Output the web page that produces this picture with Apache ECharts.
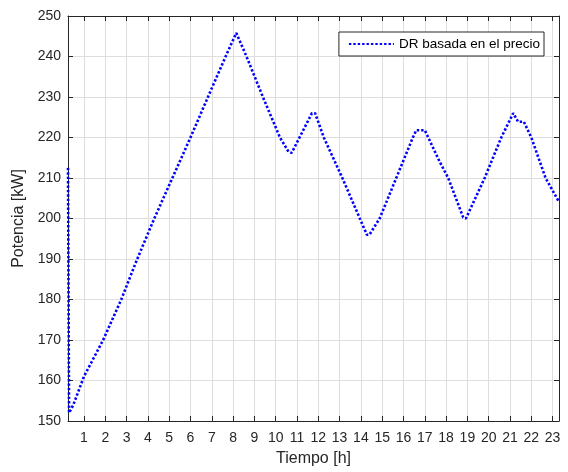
<!DOCTYPE html>
<html>
<head>
<meta charset="utf-8">
<script src="https://cdn.jsdelivr.net/npm/echarts@6/dist/echarts.min.js"></script>
<style>
html,body{margin:0;padding:0;background:#fff;}
#chart{width:568px;height:472px;}
</style>
</head>
<body>
<div id="chart"></div>
<script>
// Data
const seriesName = 'DR basada en el precio';
const hours = [0.25, 0.30, 0.50, 1.0, 1.9, 2.75, 3.5, 4.3, 5.15, 6.0, 6.82, 7.65, 8.15,
  8.63, 9.4, 10.2, 10.6, 10.75, 11.7, 11.85, 12.26, 13.13, 13.95, 14.28, 14.4, 14.88,
  15.66, 16.44, 16.6, 17.0, 17.7, 18.1, 18.8, 18.93, 19.81, 20.59, 21.15, 21.38, 21.65,
  22.0, 22.67, 23.3];
const power = [212.5, 152.0, 154.0, 161.0, 170, 180, 190, 200, 210, 220, 230, 240, 245.8,
  240, 230, 220, 216.5, 216.2, 226.0, 226.0, 220, 210, 200, 196.0, 196.0, 200,
  210, 220, 221.8, 221.8, 214, 210, 200.3, 200.0, 210, 220, 226.0, 223.9, 223.9,
  220, 210, 204.1];
const xTicks = [1,2,3,4,5,6,7,8,9,10,11,12,13,14,15,16,17,18,19,20,21,22,23];
const yTicks = [150,160,170,180,190,200,210,220,230,240,250];
const xMin = 0.25, xMax = 23.3, yMin = 150, yMax = 250;

const axisColor = '#262626';
const gridColor = '#dedede';
const font = '"Liberation Sans", Arial, Helvetica, sans-serif';

const chart = echarts.init(document.getElementById('chart'), null, {renderer: 'canvas'});
const pts = hours.map((h, i) => [h, power[i]]);

chart.setOption({
  animation: false,
  backgroundColor: '#ffffff',
  grid: {left: 68, right: 9, top: 16, bottom: 51, containLabel: false},
  legend: {
    data: [seriesName],
    right: 24, top: 32,
    orient: 'horizontal',
    borderColor: axisColor, borderWidth: 1,
    backgroundColor: '#ffffff',
    padding: [5, 4, 5, 9],
    itemWidth: 45, itemHeight: 14,
    itemStyle: {opacity: 0},
    textStyle: {fontFamily: font, fontSize: 13.5, color: '#000'}
  },
  xAxis: [{
    type: 'value', min: xMin, max: xMax, position: 'bottom',
    name: 'Tiempo [h]', nameLocation: 'middle', nameGap: 30,
    nameTextStyle: {fontFamily: font, fontSize: 16, color: axisColor},
    axisLine: {show: true, onZero: false, lineStyle: {color: axisColor, width: 1}},
    axisTick: {show: true, inside: true, length: 5, customValues: xTicks, lineStyle: {color: axisColor}},
    axisLabel: {show: true, customValues: xTicks, margin: 10, fontFamily: font, fontSize: 14, color: axisColor},
    splitLine: {show: true, lineStyle: {color: gridColor, width: 1}}
  }, {
    type: 'value', min: xMin, max: xMax, position: 'top',
    axisLine: {show: true, onZero: false, lineStyle: {color: axisColor, width: 1}},
    axisTick: {show: true, inside: true, length: 5, customValues: xTicks, lineStyle: {color: axisColor}},
    axisLabel: {show: false},
    splitLine: {show: false}
  }],
  yAxis: [{
    type: 'value', min: yMin, max: yMax, interval: 10, position: 'left',
    name: 'Potencia [kW]', nameLocation: 'middle', nameGap: 36, nameRotate: 90,
    nameTextStyle: {fontFamily: font, fontSize: 16, color: axisColor},
    axisLine: {show: true, onZero: false, lineStyle: {color: axisColor, width: 1}},
    axisTick: {show: true, inside: true, length: 5, lineStyle: {color: axisColor}},
    axisLabel: {show: true, margin: 7, fontFamily: font, fontSize: 14, color: axisColor},
    splitLine: {show: true, lineStyle: {color: gridColor, width: 1}}
  }, {
    type: 'value', min: yMin, max: yMax, interval: 10, position: 'right',
    axisLine: {show: true, onZero: false, lineStyle: {color: axisColor, width: 1}},
    axisTick: {show: true, inside: true, length: 5, lineStyle: {color: axisColor}},
    axisLabel: {show: false},
    splitLine: {show: false}
  }],
  series: [{
    name: seriesName,
    type: 'line',
    xAxisIndex: 0, yAxisIndex: 0,
    data: pts,
    symbol: 'none', showSymbol: false,
    lineStyle: {color: '#0000ff', width: 2.6, type: [2.4, 2]},
    itemStyle: {color: '#0000ff'}
  }]
});
</script>
</body>
</html>
